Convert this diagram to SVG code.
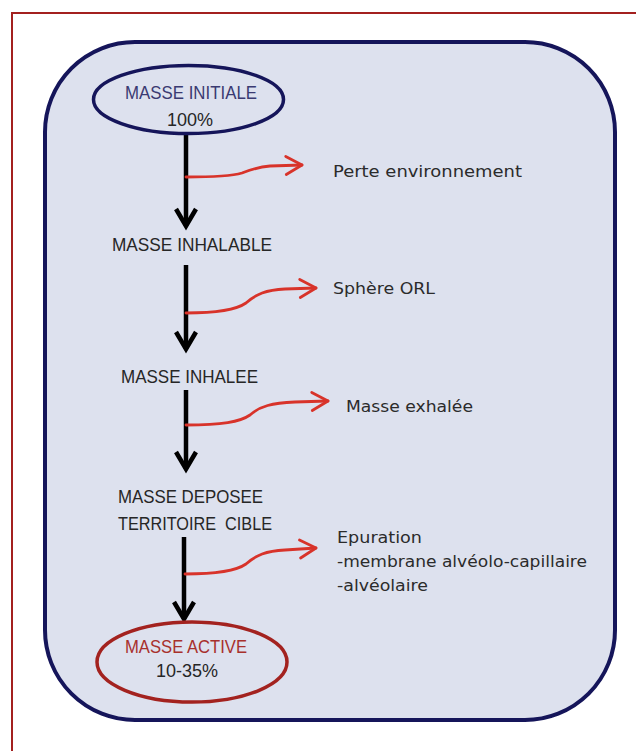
<svg xmlns="http://www.w3.org/2000/svg" width="636" height="751" viewBox="0 0 636 751">
<style>
.cap{font-family:"Liberation Sans",Arial,sans-serif;font-size:18px;fill:#262626}
.lbl{font-family:"DejaVu Sans",Verdana,sans-serif;font-size:16px;fill:#2b2b2b}
.blk{stroke:#000;stroke-width:4.5;fill:none}
.red{stroke:#d8332a;stroke-width:2.8;fill:none;stroke-linecap:round}
</style>
<defs>
<marker id="ab" markerUnits="userSpaceOnUse" markerWidth="26" markerHeight="26" viewBox="0 0 26 26" refX="20" refY="13" orient="auto">
<path d="M3,3 L20,13 L3,23" fill="none" stroke="#000" stroke-width="4.5" stroke-linejoin="miter"/>
</marker>
<marker id="ar" markerUnits="userSpaceOnUse" markerWidth="24" markerHeight="24" viewBox="0 0 24 24" refX="19" refY="12" orient="auto">
<path d="M3,3 L19,12 L3,21" fill="none" stroke="#d8332a" stroke-width="2.8" stroke-linecap="round" stroke-linejoin="round"/>
</marker>
</defs>
<rect width="636" height="751" fill="#fff"/>
<path d="M12,751 L12,13 L636,13" fill="none" stroke="#a3201f" stroke-width="2"/>
<rect id="container" x="45" y="42" width="570" height="678" rx="90" ry="90" fill="#dde1ee" stroke="#15155a" stroke-width="4"/>

<g id="connectors">
<line class="blk" x1="186" y1="134" x2="186" y2="226" marker-end="url(#ab)"/>
<line class="blk" x1="186" y1="265" x2="186" y2="349" marker-end="url(#ab)"/>
<line class="blk" x1="186" y1="390" x2="186" y2="469" marker-end="url(#ab)"/>
<line class="blk" x1="184" y1="537" x2="184" y2="619" marker-end="url(#ab)"/>
<path class="red" d="M186,177 C215,177 232,176 242,173 C252,169 258,167 270,166 L302,165" marker-end="url(#ar)"/>
<path class="red" d="M186,313 C218,313 236,310 246,303 C256,294 266,290 285,289 L316,288" marker-end="url(#ar)"/>
<path class="red" d="M186,425 C222,425 240,422 250,415 C260,406 272,403 295,402 L328,401" marker-end="url(#ar)"/>
<path class="red" d="M185,574 C218,574 236,571 246,564 C256,555 266,551 285,550 L316,548" marker-end="url(#ar)"/>
</g>

<g id="masse-initiale">
<ellipse cx="188.5" cy="99.5" rx="95" ry="34" fill="none" stroke="#15155a" stroke-width="3.5"/>
<text class="cap" x="125" y="99" textLength="132" lengthAdjust="spacingAndGlyphs" style="fill:#3a3a72">MASSE INITIALE</text>
<text class="cap" x="190" y="126" text-anchor="middle">100%</text>
</g>
<g id="masse-inhalable">
<text class="cap" x="112" y="251" textLength="160" lengthAdjust="spacingAndGlyphs">MASSE INHALABLE</text>
</g>
<g id="masse-inhalee">
<text class="cap" x="121" y="383" textLength="137" lengthAdjust="spacingAndGlyphs">MASSE INHALEE</text>
</g>
<g id="masse-deposee">
<text class="cap" x="118" y="503" textLength="145" lengthAdjust="spacingAndGlyphs">MASSE DEPOSEE</text>
<text class="cap" x="118" y="530" textLength="154" lengthAdjust="spacingAndGlyphs" xml:space="preserve">TERRITOIRE  CIBLE</text>
</g>
<g id="masse-active">
<ellipse cx="192" cy="662" rx="95" ry="40" fill="none" stroke="#a3221f" stroke-width="3.5"/>
<text class="cap" x="125" y="653" textLength="122" lengthAdjust="spacingAndGlyphs" style="fill:#a8302c">MASSE ACTIVE</text>
<text class="cap" x="187" y="677" text-anchor="middle">10-35%</text>
</g>
<g id="perte-environnement">
<text class="lbl" x="333" y="177" textLength="189" lengthAdjust="spacingAndGlyphs">Perte environnement</text>
</g>
<g id="sphere-orl">
<text class="lbl" x="333" y="294" textLength="102" lengthAdjust="spacingAndGlyphs">Sphère ORL</text>
</g>
<g id="masse-exhalee">
<text class="lbl" x="346" y="412" textLength="127" lengthAdjust="spacingAndGlyphs">Masse exhalée</text>
</g>
<g id="epuration">
<text class="lbl" x="337" y="543" textLength="85" lengthAdjust="spacingAndGlyphs">Epuration</text>
<text class="lbl" x="337" y="567" textLength="250" lengthAdjust="spacingAndGlyphs">-membrane alvéolo-capillaire</text>
<text class="lbl" x="337" y="591" textLength="91" lengthAdjust="spacingAndGlyphs">-alvéolaire</text>
</g>
</svg>
